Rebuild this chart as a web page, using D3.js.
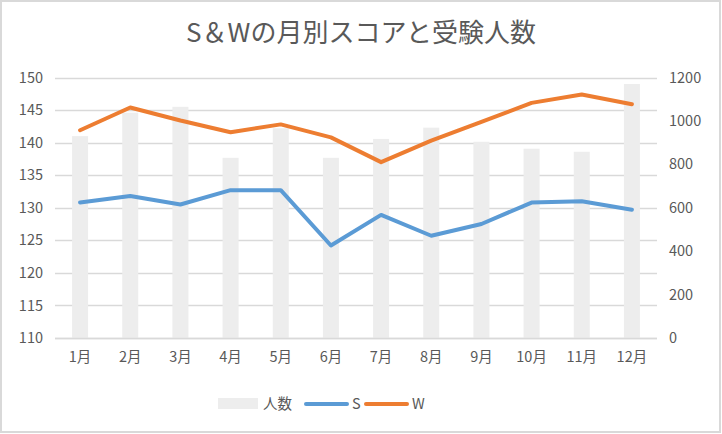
<!DOCTYPE html>
<meta charset="utf-8">
<style>
body { margin: 0; background: #fff; }
text { font-family: "Noto Sans CJK JP", "Noto Sans", sans-serif; fill: #595959; }
.grid line { stroke: #d9d9d9; stroke-width: 1.3px; }
.line { fill: none; stroke-width: 4px; stroke-linejoin: round; stroke-linecap: round; }
</style>
<body>
<svg width="722" height="434"></svg>
<script src="https://d3js.org/d3.v7.min.js"></script>
<script>

var months = ["1月","2月","3月","4月","5月","6月","7月","8月","9月","10月","11月","12月"];
var ninzu = [930, 1038, 1065, 830, 966, 830, 917, 969, 904, 872, 858, 1170];
var sScore = [130.8, 131.8, 130.5, 132.7, 132.7, 124.2, 128.9, 125.7, 127.5, 130.8, 131.0, 129.7];
var wScore = [141.9, 145.4, 143.4, 141.6, 142.8, 140.8, 137.0, 140.3, 143.2, 146.1, 147.4, 145.9];
var leftTicks = [110, 115, 120, 125, 130, 135, 140, 145, 150];
var rightTicks = [0, 200, 400, 600, 800, 1000, 1200];

var svg = d3.select("svg");

// chart border
svg.append("rect")
    .attr("x", 1).attr("y", 1)
    .attr("width", 719).attr("height", 431)
    .attr("fill", "#fff")
    .attr("stroke", "#d9d9d9")
    .attr("stroke-width", 2);

var plotL = 55, plotR = 657, plotT = 77.5, plotB = 338;

var x = d3.scaleBand().domain(months).range([plotL, plotR]);
var yL = d3.scaleLinear().domain([110, 150]).range([plotB, plotT]);
var yR = d3.scaleLinear().domain([0, 1200]).range([plotB, plotT]);

// title
svg.append("text")
    .attr("x", 361)
    .attr("y", 42)
    .attr("text-anchor", "middle")
    .attr("font-size", "26px")
    .text("S＆Wの月別スコアと受験人数");

// gridlines
svg.append("g")
    .attr("class", "grid")
  .selectAll("line")
  .data(leftTicks)
  .enter().append("line")
    .attr("x1", plotL).attr("x2", plotR)
    .attr("y1", function(d) { return Math.round(yL(d)) + 0.5; })
    .attr("y2", function(d) { return Math.round(yL(d)) + 0.5; });

// bars (right axis)
var barW = 16;
svg.append("g")
  .selectAll("rect")
  .data(ninzu)
  .enter().append("rect")
    .attr("x", function(d, i) { return x(months[i]) + x.bandwidth() / 2 - barW / 2; })
    .attr("y", function(d) { return yR(d); })
    .attr("width", barW)
    .attr("height", function(d) { return yR(0) - yR(d); })
    .attr("fill", "#ededed");

// redraw bottom axis line over bars
svg.append("line")
    .attr("x1", plotL).attr("x2", plotR)
    .attr("y1", Math.round(yL(110)) + 0.5).attr("y2", Math.round(yL(110)) + 0.5)
    .attr("stroke", "#d9d9d9").attr("stroke-width", 1.3);

var valueline = function(yScale) {
  return d3.line()
      .x(function(d, i) { return x(months[i]) + x.bandwidth() / 2; })
      .y(function(d) { return yScale(d); });
};

svg.append("path")
    .datum(sScore)
    .attr("class", "line")
    .attr("stroke", "#5b9bd5")
    .attr("d", valueline(yL));

svg.append("path")
    .datum(wScore)
    .attr("class", "line")
    .attr("stroke", "#ed7d31")
    .attr("d", valueline(yL));

// left axis
var axL = svg.append("g")
    .attr("transform", "translate(" + (plotL - 12) + ",0)")
    .call(d3.axisLeft(yL).tickValues(leftTicks).tickSize(0).tickPadding(0));
axL.select(".domain").remove();

// right axis
var axR = svg.append("g")
    .attr("transform", "translate(" + (plotR + 12) + ",0)")
    .call(d3.axisRight(yR).tickValues(rightTicks).tickFormat(d3.format("d")).tickSize(0).tickPadding(0));
axR.select(".domain").remove();

// bottom axis
var axB = svg.append("g")
    .attr("transform", "translate(0," + plotB + ")")
    .call(d3.axisBottom(x).tickSize(0).tickPadding(14));
axB.select(".domain").remove();

svg.selectAll(".tick text")
    .attr("font-size", "14.5px")
    .attr("font-family", null)
    .attr("fill", "#595959");

// legend
var lg = svg.append("g").attr("transform", "translate(0,404)");
lg.append("rect")
    .attr("x", 218).attr("y", -6)
    .attr("width", 40).attr("height", 11)
    .attr("fill", "#ededed");
lg.append("text").attr("x", 263).attr("y", 5).attr("font-size", "14.5px").text("人数");
lg.append("line")
    .attr("x1", 306).attr("x2", 347).attr("y1", 0).attr("y2", 0)
    .attr("stroke", "#5b9bd5").attr("stroke-width", 4).attr("stroke-linecap", "round");
lg.append("text").attr("x", 352).attr("y", 5).attr("font-size", "14.5px").text("S");
lg.append("line")
    .attr("x1", 366).attr("x2", 407).attr("y1", 0).attr("y2", 0)
    .attr("stroke", "#ed7d31").attr("stroke-width", 4).attr("stroke-linecap", "round");
lg.append("text").attr("x", 412).attr("y", 5).attr("font-size", "14.5px").text("W");

</script>
</body>
